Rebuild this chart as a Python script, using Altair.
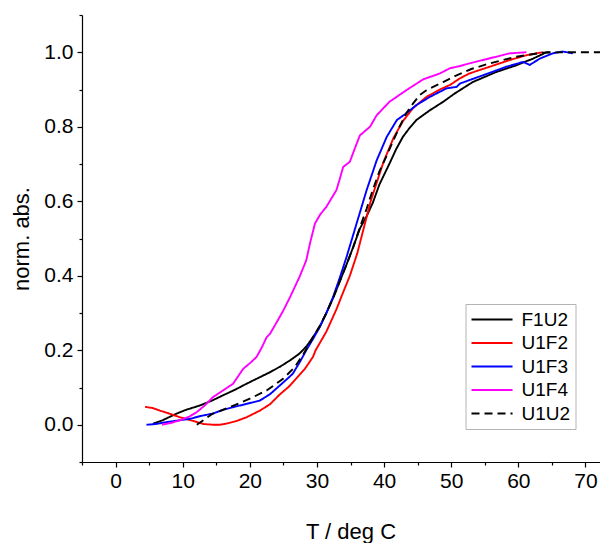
import altair as alt
import pandas as pd

series_names = ["F1U2", "U1F2", "U1F3", "U1F4", "U1U2"]
series_colors = ["#000000", "#ff0000", "#0000ff", "#ff00ff", "#000000"]
series_dashes = [[1, 0], [1, 0], [1, 0], [1, 0], [8, 5]]

x_major_ticks = [0, 10, 20, 30, 40, 50, 60, 70]
x_minor_ticks = [-5, 5, 15, 25, 35, 45, 55, 65]
y_major_ticks = [0.0, 0.2, 0.4, 0.6, 0.8, 1.0]
y_minor_ticks = [-0.1, 0.1, 0.3, 0.5, 0.7, 0.9, 1.1]

f1u2_t = [5.6, 7.0, 9.1, 10.5, 12.6, 14.5, 16.0, 17.8, 19.5, 21.3, 23.0, 24.6, 26.0, 27.4,
          28.5, 29.4, 30.4, 31.4, 32.4, 33.4, 34.4, 35.4, 36.4, 37.4, 38.3, 39.3, 40.8, 41.8,
          42.8, 43.8, 44.8, 46.8, 48.8, 50.5, 53.2, 56.7, 59.7, 62.2, 64.2, 64.8]
f1u2_v = [0.003, 0.012, 0.030, 0.040, 0.052, 0.066, 0.079, 0.094, 0.110, 0.126, 0.141, 0.157,
          0.173, 0.191, 0.212, 0.235, 0.262, 0.300, 0.340, 0.385, 0.430, 0.477, 0.527, 0.560,
          0.595, 0.645, 0.701, 0.740, 0.773, 0.797, 0.818, 0.844, 0.867, 0.889, 0.920, 0.947,
          0.965, 0.983, 1.000, 1.000]

u1f2_t = [4.4, 5.5, 6.6, 8.0, 9.6, 11.6, 13.1, 14.5, 15.5, 16.5, 18.0, 19.5, 21.5, 23.0, 24.5,
          25.8, 26.9, 28.2, 29.4, 29.8, 31.4, 32.9, 34.0, 34.9, 36.0, 37.0, 38.0, 38.9, 39.9,
          41.4, 42.8, 44.3, 46.3, 48.3, 49.8, 51.3, 52.7, 55.7, 58.7, 61.2, 63.6]
u1f2_v = [0.048, 0.045, 0.038, 0.030, 0.020, 0.010, 0.002, 0.000, 0.000, 0.003, 0.010, 0.020,
          0.038, 0.055, 0.082, 0.102, 0.124, 0.150, 0.182, 0.200, 0.250, 0.310, 0.360, 0.400,
          0.460, 0.530, 0.600, 0.650, 0.705, 0.770, 0.815, 0.850, 0.880, 0.900, 0.912, 0.930,
          0.943, 0.961, 0.979, 0.992, 1.000]

u1f3_t = [4.6, 6.0, 7.6, 9.5, 11.1, 12.8, 14.5, 16.0, 17.5, 19.5, 21.5, 23.0, 24.5, 25.5, 26.4,
          27.5, 28.4, 29.4, 30.4, 31.4, 32.4, 33.4, 34.4, 35.4, 36.4, 37.4, 38.9, 40.4, 41.9,
          43.3, 44.8, 46.8, 49.3, 50.8, 51.3, 54.7, 58.2, 60.7, 61.7, 63.2, 65.1, 66.6, 68.1]
u1f3_v = [0.000, 0.002, 0.007, 0.012, 0.016, 0.024, 0.030, 0.040, 0.047, 0.056, 0.065, 0.082,
          0.106, 0.122, 0.137, 0.170, 0.200, 0.230, 0.262, 0.300, 0.343, 0.395, 0.450, 0.510,
          0.570, 0.630, 0.710, 0.773, 0.818, 0.836, 0.858, 0.880, 0.903, 0.907, 0.916, 0.938,
          0.961, 0.974, 0.966, 0.983, 0.997, 1.002, 0.997]

u1f4_t = [6.9, 8.3, 9.6, 11.0, 12.1, 13.3, 14.5, 16.0, 17.5, 19.0, 20.0, 21.0, 21.8, 22.5,
          23.0, 24.0, 25.0, 26.0, 27.4, 28.4, 29.0, 29.7, 30.5, 31.4, 32.9, 33.4, 33.9, 34.9,
          35.6, 36.4, 37.9, 38.9, 40.8, 43.3, 45.8, 48.3, 49.8, 51.3, 52.7, 56.7, 58.7, 61.2]
u1f4_v = [0.000, 0.005, 0.012, 0.022, 0.034, 0.052, 0.074, 0.092, 0.110, 0.150, 0.165, 0.182,
          0.208, 0.235, 0.244, 0.275, 0.307, 0.343, 0.397, 0.441, 0.490, 0.540, 0.565, 0.585,
          0.630, 0.660, 0.692, 0.706, 0.740, 0.777, 0.800, 0.831, 0.867, 0.898, 0.927, 0.943,
          0.957, 0.963, 0.970, 0.988, 0.997, 1.000]

u1u2_t = [12.1, 14.5, 17.0, 20.0, 22.5, 25.0, 26.7, 28.0, 29.4, 30.4, 31.4, 32.4, 33.4, 34.4,
          35.4, 36.4, 37.4, 38.3, 39.3, 40.3, 41.3, 42.3, 43.3, 44.3, 45.3, 46.3, 48.8, 50.8,
          53.0, 55.7, 59.7, 63.6, 66.6, 72.5]
u1u2_v = [0.000, 0.030, 0.047, 0.070, 0.092, 0.124, 0.155, 0.190, 0.235, 0.265, 0.300, 0.340,
          0.385, 0.430, 0.477, 0.530, 0.580, 0.630, 0.680, 0.719, 0.760, 0.800, 0.836, 0.862,
          0.885, 0.898, 0.920, 0.938, 0.955, 0.970, 0.988, 0.999, 1.000, 1.000]

all_t = [f1u2_t, u1f2_t, u1f3_t, u1f4_t, u1u2_t]
all_v = [f1u2_v, u1f2_v, u1f3_v, u1f4_v, u1u2_v]

rows = []
for name, ts, vs in zip(series_names, all_t, all_v):
    for i, (t, v) in enumerate(zip(ts, vs)):
        rows.append({"series": name, "T": t, "v": v, "i": i})
df = pd.DataFrame(rows)

FONT = "Liberation Sans"

x_scale = alt.Scale(domain=[-5, 72.16], nice=False, zero=False)
y_scale = alt.Scale(domain=[-0.1, 1.1], nice=False, zero=False)

legend = alt.Legend(
    title=None, orient="none", legendX=383.5, legendY=289,
    symbolType="M-1,0H3.32", symbolSize=361, symbolStrokeWidth=1.8,
    symbolFillColor="transparent",
    labelOffset=30, labelFont=FONT, labelFontSize=19, labelColor="#000000",
    strokeColor="#b4b4b4", fillColor="#ffffff", padding=5, rowPadding=2.5,
)

lines = alt.Chart(df).mark_line(strokeWidth=1.9, clip=True).encode(
    x=alt.X("T:Q", scale=x_scale,
            axis=alt.Axis(values=x_major_ticks, orient="bottom", title="T / deg C",
                          tickSize=5, labelPadding=3, format="d",
                          titleX=268.5, titleY=76, titleAlign="center",
                          titleBaseline="alphabetic")),
    y=alt.Y("v:Q", scale=y_scale,
            axis=alt.Axis(values=y_major_ticks, orient="left", title="norm. abs.",
                          tickSize=5, labelPadding=4, format=".1f",
                          titleX=-54, titleY=223.5, titleAngle=270,
                          titleAlign="center", titleBaseline="alphabetic")),
    color=alt.Color("series:N", scale=alt.Scale(domain=series_names, range=series_colors),
                    legend=legend),
    strokeDash=alt.StrokeDash("series:N",
                              scale=alt.Scale(domain=series_names, range=series_dashes),
                              legend=legend),
    order="i:Q",
)

minor = alt.Chart(df).mark_point(opacity=0, size=1).encode(
    x=alt.X("T:Q", scale=x_scale,
            axis=alt.Axis(values=x_minor_ticks, orient="bottom", labels=False,
                          domain=False, tickSize=3, title=None)),
    y=alt.Y("v:Q", scale=y_scale,
            axis=alt.Axis(values=y_minor_ticks, orient="left", labels=False,
                          domain=False, tickSize=3, title=None)),
)

chart = alt.layer(lines, minor).resolve_axis(
    x="independent", y="independent"
).properties(
    width=518, height=447,
    padding={"left": 74, "top": 7, "right": 0, "bottom": 81},
    autosize=alt.AutoSizeParams(type="none"),
    background="#ffffff",
).configure_view(stroke=None).configure_axis(
    grid=False, domainColor="#000000", domainWidth=1.2, tickColor="#000000",
    tickWidth=1.2, labelFont=FONT, labelFontSize=21, labelColor="#000000",
    titleFont=FONT, titleFontSize=22, titleFontWeight="normal", titleColor="#000000",
)

chart.save("out.html", embed_options={"renderer": "svg", "actions": False})
